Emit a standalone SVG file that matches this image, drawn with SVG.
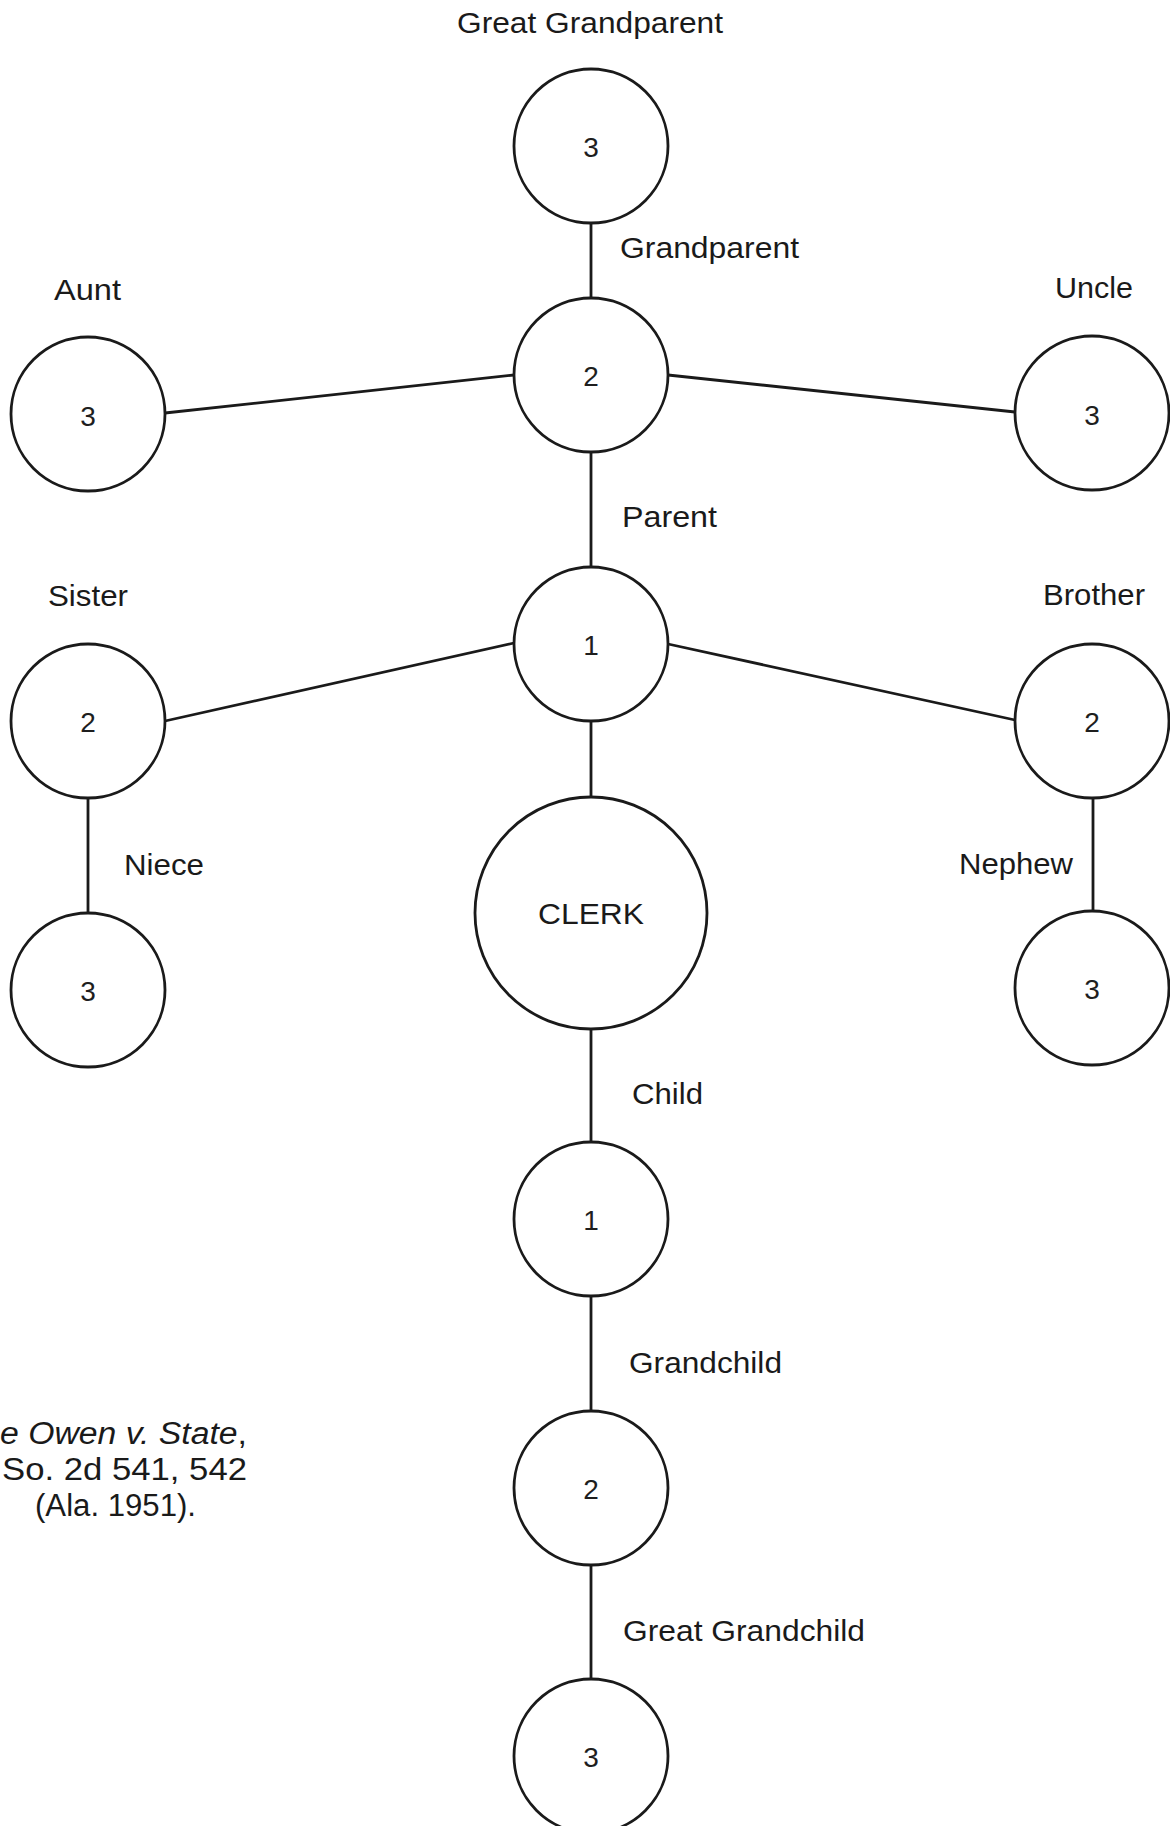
<svg xmlns="http://www.w3.org/2000/svg" width="1170" height="1826" viewBox="0 0 1170 1826">
<style>
  .bg { fill: #ffffff; }
  .node circle { fill: #ffffff; stroke: #1a1a1a; stroke-width: 2.8; }
  .num { font-family: "Liberation Sans", Arial, sans-serif; font-size: 28px; fill: #1e1e1e; text-anchor: middle; }
  .lbl { font-family: "Liberation Sans", Arial, sans-serif; font-size: 29px; fill: #1a1a1a; }
  .cite { font-family: "Liberation Sans", Arial, sans-serif; font-size: 31px; fill: #1a1a1a; }
  #connectors line { stroke: #1a1a1a; stroke-width: 2.8; fill: none; }
</style>
<rect class="bg" x="0" y="0" width="1170" height="1826"/>

<g id="connectors">
  <line x1="591" y1="223" x2="591" y2="298"/>
  <line x1="165" y1="413" x2="514" y2="375"/>
  <line x1="668" y1="375" x2="1015" y2="412"/>
  <line x1="591" y1="452" x2="591" y2="567"/>
  <line x1="165" y1="721" x2="514" y2="643"/>
  <line x1="668" y1="644" x2="1015" y2="720"/>
  <line x1="88" y1="798" x2="88" y2="913"/>
  <line x1="1093" y1="797" x2="1093" y2="911"/>
  <line x1="591" y1="721" x2="591" y2="797"/>
  <line x1="591" y1="1029" x2="591" y2="1142"/>
  <line x1="591" y1="1296" x2="591" y2="1411"/>
  <line x1="591" y1="1565" x2="591" y2="1679"/>
</g>

<g id="great-grandparent" class="node">
  <circle cx="591" cy="146" r="77"/>
  <text class="num" x="591" y="157">3</text>
  <text class="lbl" x="457" y="33" textLength="266" lengthAdjust="spacingAndGlyphs">Great Grandparent</text>
</g>
<g id="grandparent" class="node">
  <circle cx="591" cy="375" r="77"/>
  <text class="num" x="591" y="386">2</text>
  <text class="lbl" x="620" y="258" textLength="179" lengthAdjust="spacingAndGlyphs">Grandparent</text>
</g>
<g id="aunt" class="node">
  <circle cx="88" cy="414" r="77"/>
  <text class="num" x="88" y="426">3</text>
  <text class="lbl" x="54" y="300" textLength="67" lengthAdjust="spacingAndGlyphs">Aunt</text>
</g>
<g id="uncle" class="node">
  <circle cx="1092" cy="413" r="77"/>
  <text class="num" x="1092" y="425">3</text>
  <text class="lbl" x="1055" y="298" textLength="78" lengthAdjust="spacingAndGlyphs">Uncle</text>
</g>
<g id="parent" class="node">
  <circle cx="591" cy="644" r="77"/>
  <text class="num" x="591" y="655">1</text>
  <text class="lbl" x="622" y="527" textLength="95" lengthAdjust="spacingAndGlyphs">Parent</text>
</g>
<g id="sister" class="node">
  <circle cx="88" cy="721" r="77"/>
  <text class="num" x="88" y="732">2</text>
  <text class="lbl" x="48" y="606" textLength="80" lengthAdjust="spacingAndGlyphs">Sister</text>
</g>
<g id="brother" class="node">
  <circle cx="1092" cy="721" r="77"/>
  <text class="num" x="1092" y="732">2</text>
  <text class="lbl" x="1043" y="605" textLength="102" lengthAdjust="spacingAndGlyphs">Brother</text>
</g>
<g id="niece" class="node">
  <circle cx="88" cy="990" r="77"/>
  <text class="num" x="88" y="1001">3</text>
  <text class="lbl" x="124" y="875" textLength="80" lengthAdjust="spacingAndGlyphs">Niece</text>
</g>
<g id="nephew" class="node">
  <circle cx="1092" cy="988" r="77"/>
  <text class="num" x="1092" y="999">3</text>
  <text class="lbl" x="959" y="874" textLength="114" lengthAdjust="spacingAndGlyphs">Nephew</text>
</g>
<g id="clerk" class="node">
  <circle cx="591" cy="913" r="116"/>
  <text class="lbl" x="591" y="924" text-anchor="middle" textLength="106" lengthAdjust="spacingAndGlyphs">CLERK</text>
</g>
<g id="child" class="node">
  <circle cx="591" cy="1219" r="77"/>
  <text class="num" x="591" y="1230">1</text>
  <text class="lbl" x="632" y="1104" textLength="71" lengthAdjust="spacingAndGlyphs">Child</text>
</g>
<g id="grandchild" class="node">
  <circle cx="591" cy="1488" r="77"/>
  <text class="num" x="591" y="1499">2</text>
  <text class="lbl" x="629" y="1373" textLength="153" lengthAdjust="spacingAndGlyphs">Grandchild</text>
</g>
<g id="great-grandchild" class="node">
  <circle cx="591" cy="1756" r="77"/>
  <text class="num" x="591" y="1767">3</text>
  <text class="lbl" x="623" y="1641" textLength="242" lengthAdjust="spacingAndGlyphs">Great Grandchild</text>
</g>

<g id="citation">
  <text class="cite" x="0" y="1444" textLength="247" lengthAdjust="spacingAndGlyphs"><tspan font-style="italic">e Owen v. State</tspan>,</text>
  <text class="cite" x="2" y="1480" textLength="245" lengthAdjust="spacingAndGlyphs">So. 2d 541, 542</text>
  <text class="cite" x="35" y="1516" textLength="161" lengthAdjust="spacingAndGlyphs">(Ala. 1951).</text>
</g>
</svg>
